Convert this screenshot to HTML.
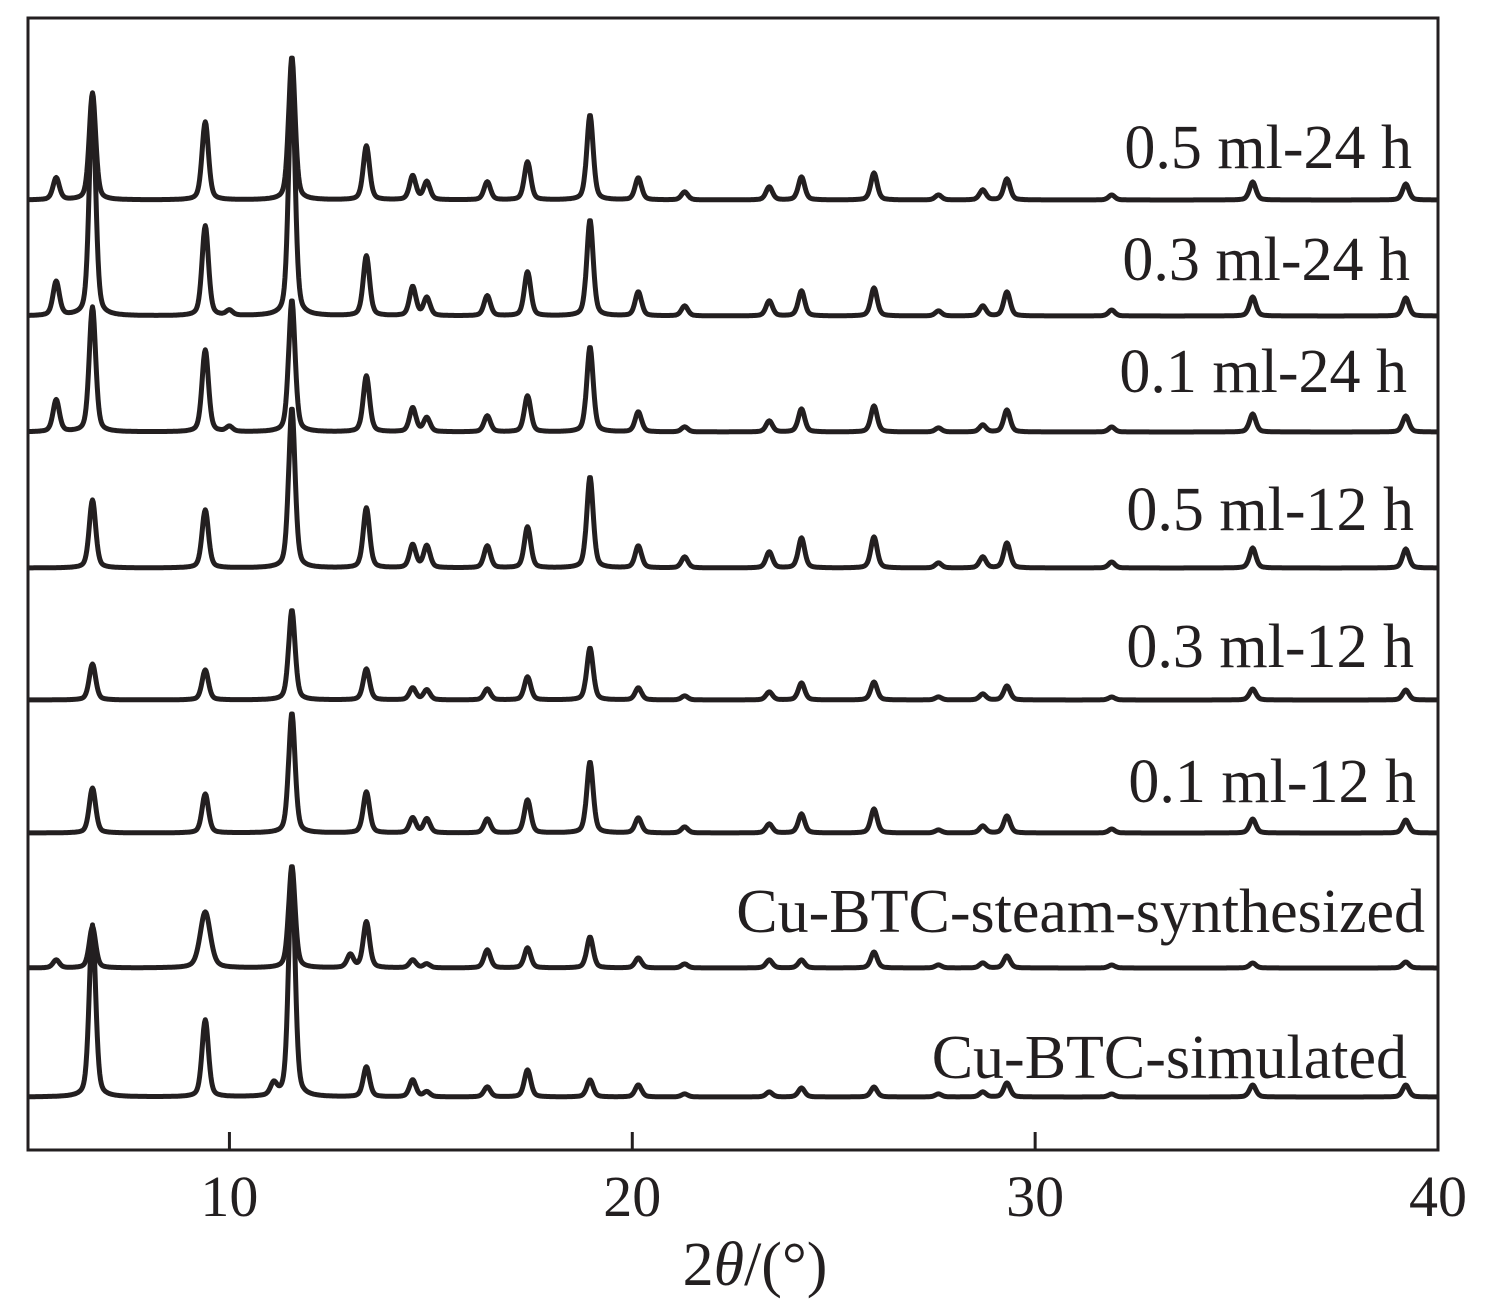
<!DOCTYPE html>
<html><head><meta charset="utf-8"><style>
html,body{margin:0;padding:0;background:#fff}
svg{display:block}
text{font-family:"Liberation Serif",serif;fill:#231f20}
</style></head><body>
<svg id="chart" width="1497" height="1305" viewBox="0 0 1497 1305" xmlns="http://www.w3.org/2000/svg">
<defs><clipPath id="clip"><rect x="29" y="19" width="1408" height="1130"/></clipPath></defs>
<g id="traces" clip-path="url(#clip)"></g>
<rect x="28" y="18" width="1410" height="1132" fill="none" stroke="#231f20" stroke-width="3"/>
<g id="axis"></g>
<text x="755" y="1285" font-size="62" text-anchor="middle">2<tspan font-style="italic">θ</tspan>/(°)</text>
</svg>
<script>
const peaks = [5.7, 6.6, 9.4, 11.55, 13.4, 14.55, 14.9, 16.4, 17.4, 18.95, 20.15, 21.3, 23.4, 24.2, 26.0, 27.6, 28.7, 29.3, 31.9, 35.4, 39.2, 10.0, 11.1, 13.0];
const labels = ["0.5 ml-24 h","0.3 ml-24 h","0.1 ml-24 h","0.5 ml-12 h","0.3 ml-12 h","0.1 ml-12 h","Cu-BTC-steam-synthesized","Cu-BTC-simulated"];
const offsets = [200, 316, 432, 568, 700, 833, 968, 1097];
const labelY = [168, 280, 392, 530, 667, 802, 932, 1078];
const labelX = [1412, 1410, 1407, 1414, 1414, 1416, 1425, 1407];
const h1 = [22,107,78,143,54,24,18,18,38,85,22,8,13,23,27,5,10,21,5,18,16,0,0,0];
const h2 = [34,215,90,240,60,29,18,20,44,96,24,10,15,25,28,5,10,24,6,19,18,5,0,0];
const h3 = [32,125,82,132,56,24,14,16,36,85,20,5,11,23,26,4,7,22,5,18,16,5,0,0];
const h4 = [0,68,58,160,60,23,22,22,41,91,22,11,16,30,31,5,11,25,6,20,19,0,0,0];
const h5 = [0,36,30,90,31,12,10,11,23,52,12,4,8,17,18,3,6,14,3,11,10,0,0,0];
const h6 = [0,45,39,120,41,15,14,14,33,71,15,6,9,19,24,3,7,17,4,14,13,0,0,0];
const h7 = [8,41,56,102,46,8,4,18,20,31,10,4,8,8,16,3,5,12,3,5,6,0,0,13];
const h8 = [0,172,77,229,30,17,5,10,27,17,12,3,5,9,10,3,5,14,3,12,12,0,12,0];
const series = [h1,h2,h3,h4,h5,h6,h7,h8];
const xTicks = [10,20,30,40];
const X0=5, X1=40, PX0=28, PX1=1438;
function xs(v){return PX0+(v-X0)*(PX1-PX0)/(X1-X0);}
const NS="http://www.w3.org/2000/svg";
const tg=document.getElementById('traces');
series.forEach((hs,i)=>{
  let d="";
  for(let t=X0;t<=X1+0.001;t+=0.02){
    let y=0;
    peaks.forEach((p,k)=>{
      const h=hs[k]; if(!h) return;
      const w=(i===6&&k===2)?0.15:0.095;
      const dx=(t-p)/w;
      y+=h*(0.6*Math.exp(-dx*dx*0.693)+0.4/(1+dx*dx));
    });
    d+=(d?"L":"M")+xs(t).toFixed(1)+","+(offsets[i]-y).toFixed(1);
  }
  const path=document.createElementNS(NS,'path');
  path.setAttribute('d',d);
  path.setAttribute('fill','none');
  path.setAttribute('stroke','#231f20');
  path.setAttribute('stroke-width','5');
  path.setAttribute('stroke-linejoin','round');
  
  
  tg.appendChild(path);
  const tx=document.createElementNS(NS,'text');
  tx.setAttribute('x',labelX[i]);
  tx.setAttribute('y',labelY[i]);
  tx.setAttribute('font-size','62');
  tx.setAttribute('text-anchor','end');
  tx.textContent=labels[i];
  
  
  document.getElementById('chart').appendChild(tx);
});
const ag=document.getElementById('axis');
xTicks.forEach(v=>{
  const l=document.createElementNS(NS,'line');
  l.setAttribute('x1',xs(v));l.setAttribute('x2',xs(v));
  l.setAttribute('y1',1150);l.setAttribute('y2',1132);
  l.setAttribute('stroke','#231f20');l.setAttribute('stroke-width','3');
  
  
  ag.appendChild(l);
  const t=document.createElementNS(NS,'text');
  t.setAttribute('x',xs(v));t.setAttribute('y',1216);
  t.setAttribute('font-size','58');t.setAttribute('text-anchor','middle');
  t.textContent=v;
  
  
  ag.appendChild(t);
});
</script>
</body></html>
